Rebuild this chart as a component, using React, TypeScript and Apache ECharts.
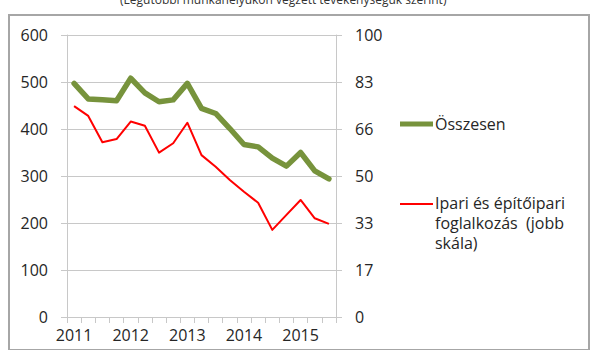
import React, { useEffect, useRef } from 'react';
import * as echarts from 'echarts';

const years = ['2011', '2012', '2013', '2014', '2015'];
const quarters = ['I', 'II', 'III', 'IV'];
const categories: string[] = years.flatMap((y) => quarters.map((q) => `${y} ${q}`)).slice(0, 19);

const totalName = 'Összesen';
const industryName = 'Ipari és építőipari foglalkozás  (jobb skála)';
const industryLegendText = 'Ipari és építőipari\nfoglalkozás  (jobb\nskála)';

const totalValues = [497, 464, 462, 460, 508, 477, 458, 462, 497, 444, 433, 401, 367, 362, 338, 321, 350, 311, 294];
const industryValues = [74.8, 71.3, 62.0, 63.1, 69.3, 67.8, 58.3, 61.6, 68.9, 57.4, 53.3, 48.6, 44.4, 40.5, 30.9, 36.2, 41.5, 35.0, 33.0];

const leftTickLabels = ['0', '100', '200', '300', '400', '500', '600'];
const rightTickLabels = ['0', '17', '33', '50', '66', '83', '100'];

const subtitle = '(Legutóbbi munkahelyükön végzett tevékenységük szerint)';

const FONT = '"Open Sans", sans-serif';
const GREEN = '#77933c';
const RED = '#ff0000';
const GRID = '#c8c8c8';
const TEXT = '#262626';

export default function App() {
  const ref = useRef<HTMLDivElement>(null);
  useEffect(() => {
    if (!ref.current) return;
    const chart = echarts.init(ref.current, undefined, { renderer: 'svg' });
    chart.setOption({
      animation: false,
      textStyle: { fontFamily: FONT },
      title: {
        text: subtitle,
        left: 120,
        top: -7,
        padding: 0,
        textStyle: { fontSize: 12, fontWeight: 'normal', color: '#333', fontFamily: FONT },
      },
      grid: [
        { left: 67, right: 264, top: 35, bottom: 33 },
        {
          left: 9,
          right: 11,
          top: 15,
          bottom: -10,
          show: true,
          borderColor: '#a6a6a6',
          borderWidth: 2,
          backgroundColor: 'transparent',
          z: -1,
        },
      ],
      legend: [
        {
          data: [totalName],
          left: 400,
          top: 116,
          padding: 0,
          itemWidth: 33,
          itemHeight: 5,
          icon: 'rect',
          textStyle: { fontSize: 16, color: TEXT, fontFamily: FONT, padding: [0, 0, 0, -3] },
        },
        {
          data: [industryName],
          left: 400,
          top: 193,
          padding: 0,
          itemWidth: 33,
          itemHeight: 40,
          icon: 'path://M0,-1H33V1H0Z M0,39H0.01V39.01H0Z',
          formatter: () => industryLegendText,
          textStyle: { fontSize: 16, color: TEXT, fontFamily: FONT, lineHeight: 20, padding: [0, 0, 0, -3] },
        },
      ],
      xAxis: [
        {
          type: 'category',
          data: categories,
          boundaryGap: true,
          axisLine: { show: true, lineStyle: { color: GRID } },
          axisTick: { show: true, interval: 0, length: 6, lineStyle: { color: GRID } },
          axisLabel: {
            interval: 0,
            margin: 10,
            fontSize: 16,
            color: TEXT,
            fontFamily: FONT,
            formatter: (_v: string, idx: number) => (idx % 4 === 0 ? years[idx / 4] : ''),
          },
          splitLine: { show: false },
        },
        { type: 'value', gridIndex: 1, show: false, min: 0, max: 1 },
      ],
      yAxis: [
        {
          type: 'value',
          min: 0,
          max: 600,
          interval: 100,
          axisLine: { show: true, lineStyle: { color: GRID } },
          axisTick: { show: true, length: 6, lineStyle: { color: GRID } },
          splitLine: { show: true, lineStyle: { color: GRID } },
          axisLabel: {
            margin: 19,
            fontSize: 16,
            color: TEXT,
            fontFamily: FONT,
            formatter: (v: number) => leftTickLabels[Math.round(v / 100)] ?? '',
          },
        },
        {
          type: 'value',
          min: 0,
          max: 100,
          interval: 100 / 6,
          position: 'right',
          axisLine: { show: true, lineStyle: { color: GRID } },
          axisTick: { show: true, length: 6, lineStyle: { color: GRID } },
          splitLine: { show: false },
          axisLabel: {
            margin: 19,
            fontSize: 16,
            color: TEXT,
            fontFamily: FONT,
            formatter: (v: number) => rightTickLabels[Math.round((v * 6) / 100)] ?? '',
          },
        },
        { type: 'value', gridIndex: 1, show: false, min: 0, max: 1 },
      ],
      series: [
        {
          name: totalName,
          type: 'line',
          yAxisIndex: 0,
          data: totalValues,
          symbol: 'none',
          color: GREEN,
          itemStyle: { color: GREEN },
          lineStyle: { width: 5.5, color: GREEN, join: 'round', cap: 'round' },
        },
        {
          name: industryName,
          type: 'line',
          yAxisIndex: 1,
          data: industryValues,
          symbol: 'none',
          color: RED,
          itemStyle: { color: RED },
          lineStyle: { width: 2, color: RED, join: 'round' },
        },
      ],
    });
    return () => chart.dispose();
  }, []);
  return (
    <div
      ref={ref}
      style={{ position: 'fixed', left: 0, top: 0, width: 600, height: 350, background: '#fff' }}
    />
  );
}
